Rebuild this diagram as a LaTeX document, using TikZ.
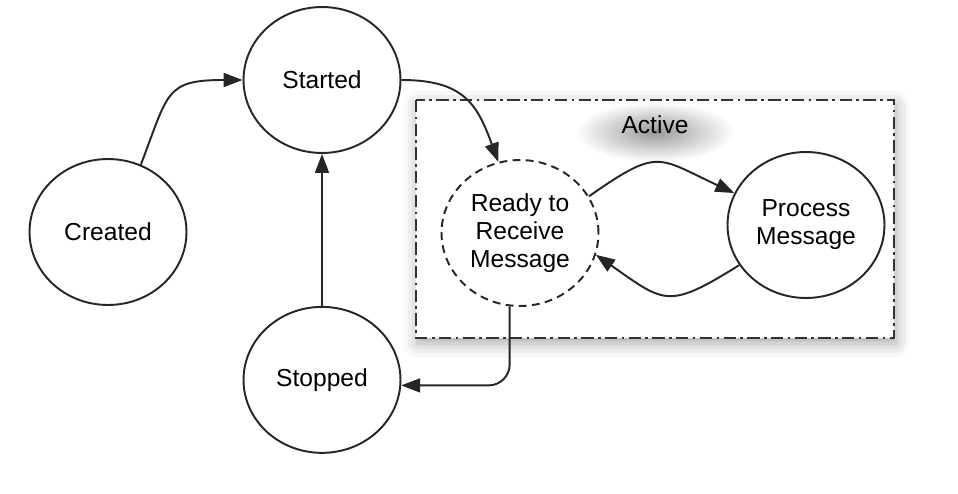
\documentclass[tikz,border=0pt]{standalone}
\usepackage{fontspec}
\setmainfont{Liberation Sans}
\usetikzlibrary{shapes.geometric, arrows.meta, positioning, shadows.blur}

\begin{document}
\begin{tikzpicture}[x=0.02cm, y=-0.02cm, node distance=3.04cm,
    state/.style={ellipse, draw=black!85, line width=1.1pt, minimum width=3.14cm, minimum height=2.92cm, inner sep=0pt, align=center, font=\fontsize{14}{16}\selectfont},
    waitstate/.style={state, dash pattern=on 4.5pt off 3pt},
    activebox/.style={draw=black!80, line width=1.1pt, fill=white, dash pattern=on 7pt off 2.5pt on 1.5pt off 2.5pt, blur shadow={shadow xshift=1pt, shadow yshift=-3pt, shadow blur radius=8pt, shadow opacity=35}},
    boxlabel/.style={font=\fontsize{14}{16}\selectfont, minimum width=3.2cm, minimum height=1.2cm, preaction={shade, inner color=black!40, outer color=white, transform canvas={yshift=-4pt}}},
    line/.style={draw=black!85, -{Triangle[length=0.38cm, width=0.28cm]}, line width=1.1pt}]

    \useasboundingbox (0,0) rectangle (958,494);

    \draw [activebox] (416,100) rectangle (894,338);
    \node [boxlabel] (activelabel) at (655,125) {Active};

    \node [state] (created) at (108,232) {Created};
    \node [state] (started) at (322,80) {Started};
    \node [state, below=of started] (stopped) {Stopped};
    \node [waitstate] (ready) at (520,233) {Ready to\\Receive\\Message};
    \node [state] (process) at (806,225) {Process\\Message};

    \path [line] (created.64) to[out=69, in=180, looseness=1.5] (started.west);
    \path [line] (started.east) to[out=0, in=110, looseness=1.25] (ready.107);
    \path [line] (ready.28) to[out=35, in=155, looseness=1.5] (process.156);
    \path [line] (process.211) to[out=212, in=-35, looseness=1.5] (ready.-16);
    \path [line, rounded corners=12pt] (ready.262) |- (stopped.-4);
    \path [line] (stopped) -- (started);
\end{tikzpicture}
\end{document}
